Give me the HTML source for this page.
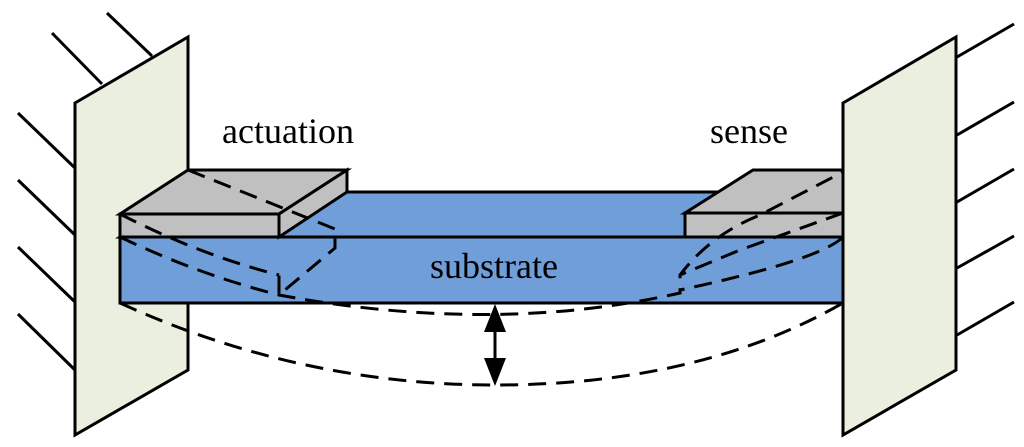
<!DOCTYPE html>
<html><head><style>body{margin:0;background:#fff}svg{display:block}</style></head><body>
<svg width="1024" height="447" viewBox="0 0 1024 447" xmlns="http://www.w3.org/2000/svg">
<g stroke="#000" stroke-width="3" fill="none">
<line x1="107" y1="13" x2="152" y2="56"/><line x1="52" y1="33" x2="102" y2="84"/>
<line x1="18" y1="113" x2="75" y2="168"/><line x1="18" y1="180" x2="75" y2="235"/>
<line x1="18" y1="247" x2="75" y2="302"/><line x1="18" y1="314" x2="75" y2="370"/>
<line x1="957" y1="57" x2="1014" y2="24"/><line x1="957" y1="135" x2="1014" y2="102"/>
<line x1="957" y1="202" x2="1014" y2="169"/><line x1="957" y1="268" x2="1014" y2="236"/>
<line x1="957" y1="335" x2="1014" y2="302"/>
</g>
<polygon points="75,103 188,37 188,370 75,435" fill="#ebefdf" stroke="#000" stroke-width="3"/>
<g stroke="#000" stroke-width="3" stroke-linejoin="miter">
<polygon points="120,237 188,192 912,192 843,237" fill="#6f9ed9"/>
<rect x="120" y="237" width="723" height="66" fill="#6f9ed9"/>
<polygon points="120,214 188,170 347,170 279,214" fill="#c0c0c0"/>
<rect x="120" y="214" width="159" height="23" fill="#c0c0c0"/>
<polygon points="279,214 347,170 347,192 279,237" fill="#c0c0c0"/>
<polygon points="685,213 753,170 860,170 860,213" fill="#c0c0c0"/>
<rect x="685" y="213" width="175" height="24" fill="#c0c0c0"/>
</g>
<g stroke="#000" stroke-width="3" fill="none" stroke-dasharray="18,10">
<path d="M188,170 L335,229 L335,248 L279,295 L279,275"/>
<path d="M120,214 Q200,255 279,275"/>
<path d="M120,237 Q200,275 279,295 Q495,335 680,293 L680,275 Q710,235 760,215 L843,172"/>
<path d="M843,213 L740,250 L680,275"/>
<path d="M843,237 Q820,260 680,290"/>
<path d="M120,303 Q300,385 495,385 Q700,385 843,303"/>
</g>
<polygon points="843,103 956,37 956,370 843,435" fill="#ebefdf" stroke="#000" stroke-width="3"/>
<line x1="495" y1="320" x2="495" y2="370" stroke="#000" stroke-width="3"/>
<polygon points="495,304 484,332 506,332" fill="#000"/>
<polygon points="495,386 484,358 506,358" fill="#000"/>
<g font-family="Liberation Serif, serif" font-size="36" fill="#000">
<text x="222" y="143">actuation</text>
<text x="710" y="143">sense</text>
<text x="494" y="278" text-anchor="middle">substrate</text>
</g>
</svg>
</body></html>
